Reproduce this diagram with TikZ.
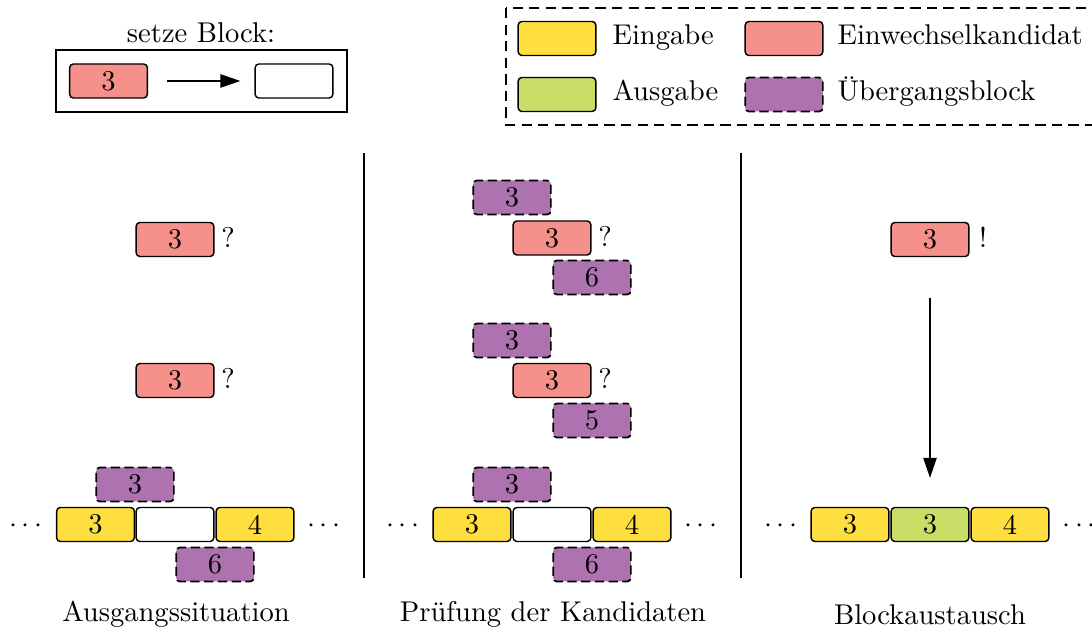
\documentclass[tikz,border=0pt]{standalone}
\usetikzlibrary{arrows.meta}
\definecolor{cyel}{HTML}{FFDE40}
\definecolor{cred}{HTML}{F5918A}
\definecolor{cgrn}{HTML}{C8DC66}
\definecolor{cpur}{HTML}{AD72AF}
\begin{document}
\begin{tikzpicture}[x=0.35pt,y=-0.35pt,
  blk/.style={draw, line width=0.5pt, rounded corners=1.3pt, minimum width=27.2pt, minimum height=11.9pt, inner sep=0pt},
  inp/.style={blk, fill=cyel},
  cand/.style={blk, fill=cred},
  outp/.style={blk, fill=cgrn},
  trans/.style={blk, fill=cpur, line width=0.6pt, dash pattern=on 3.2pt off 1.6pt, dash phase=1.6pt},
  emptyblk/.style={blk, fill=white},
  lbl/.style={anchor=base, inner sep=0pt},
  legtxt/.style={anchor=base west, inner sep=0pt},
  arr/.style={line width=0.7pt, -{Triangle[length=7pt,width=4.6pt]}},
  sep/.style={line width=0.55pt}
]
\useasboundingbox (0,0) rectangle (1092,634);

% --- setze Block box ---
\node[lbl] (st) at (201,43) {setze Block:};
\draw[line width=0.45pt] (56,50) rectangle (347,112);
\node[cand] (sa) at (108.5,81) {3};
\node[emptyblk] (sb) at (294,81) {};
\draw[arr, shorten <=6.6pt, shorten >=4.9pt] (sa) -- (sb);

% --- legend ---
\draw[line width=0.45pt, dash pattern=on 3.6pt off 2.2pt] (506,8) rectangle (1110,125);
\node[inp] (l1) at (557,38.5) {};
\node[legtxt] (t1) at (612,45) {Eingabe};
\node[cand] (l2) at (784,38.5) {};
\node[legtxt] (t2) at (837,45) {Einwechselkandidat};
\node[outp] (l3) at (557,94.5) {};
\node[legtxt] (t3) at (612,100.5) {Ausgabe};
\node[trans] (l4) at (784,94.5) {};
\node[legtxt] (t4) at (837,100.5) {Übergangsblock};

% --- separators ---
\draw[sep] (364,153) -- (364,578);
\draw[sep] (741,153) -- (741,578);

% --- panel 1 ---
\node[cand] (a1) at (175,239.5) {3};
\node[lbl] (aq1) at (228,248) {?};
\node[cand] (a2) at (175,380.5) {3};
\node[lbl] (aq2) at (228,389) {?};
\node[trans] (ap3) at (135,484.5) {3};
\node[inp] (ay3) at (95.5,524.5) {3};
\node[emptyblk] (aw) at (175,524.5) {};
\node[inp] (ay4) at (255,524.5) {4};
\node[trans] (ap6) at (215,564.5) {6};
\node[lbl] (ad1) at (26,533) {$\cdots$};
\node[lbl] (ad2) at (324,533) {$\cdots$};
\node[lbl] (acap) at (176,622) {Ausgangssituation};

% --- panel 2 ---
\node[trans] (b11) at (512,197.5) {3};
\node[cand] (b12) at (552,238) {3};
\node[lbl] (bq1) at (605,246.5) {?};
\node[trans] (b13) at (592,277.5) {6};
\node[trans] (b21) at (512,340.5) {3};
\node[cand] (b22) at (552,380.5) {3};
\node[lbl] (bq2) at (605,389) {?};
\node[trans] (b23) at (592,420.5) {5};
\node[trans] (bp3) at (512,484.5) {3};
\node[inp] (by3) at (472,524.5) {3};
\node[emptyblk] (bw) at (552,524.5) {};
\node[inp] (by4) at (632,524.5) {4};
\node[trans] (bp6) at (592,564.5) {6};
\node[lbl] (bd1) at (403,533) {$\cdots$};
\node[lbl] (bd2) at (701,533) {$\cdots$};
\node[lbl] (bcap) at (553,622) {Prüfung der Kandidaten};

% --- panel 3 ---
\node[cand] (c1) at (930,239.5) {3};
\node[lbl] (cx) at (983,248) {!};
\node[inp] (cy3) at (850,524.5) {3};
\node[outp] (cg) at (930,524.5) {3};
\node[inp] (cy4) at (1010,524.5) {4};
\node[lbl] (cd1) at (781,533) {$\cdots$};
\node[lbl] (cd2) at (1079,533) {$\cdots$};
\draw[arr, shorten <=14.3pt, shorten >=10.1pt] (c1) -- (cg);
\node[lbl] (ccap) at (930,625) {Blockaustausch};
\end{tikzpicture}
\end{document}
